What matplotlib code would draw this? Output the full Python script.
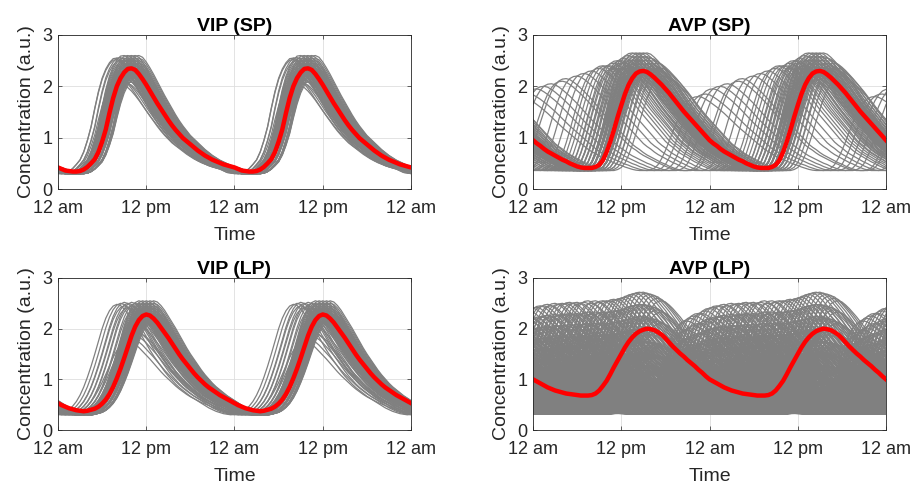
import numpy as np
import matplotlib.pyplot as plt

plt.rcParams["font.family"] = ["Liberation Sans", "DejaVu Sans"]

# Eje de tiempo: dos días, cada media hora
HORAS = np.arange(0, 48.5, 0.5)
MARCAS_X = [0, 12, 24, 36, 48]
ETIQUETAS_X = ["12 am", "12 pm", "12 am", "12 pm", "12 am"]
MARCAS_Y = [0, 1, 2, 3]

# Curvas medias (rojas), un día cada media hora desde las 12 am
VIP_SP_MEDIA = [0.42, 0.39, 0.36, 0.35, 0.34, 0.34, 0.35, 0.38,
                0.43, 0.50, 0.58, 0.72, 0.92, 1.16, 1.48, 1.77,
                2.00, 2.16, 2.27, 2.34, 2.35, 2.32, 2.24, 2.14,
                2.03, 1.91, 1.79, 1.67, 1.56, 1.45, 1.34, 1.24,
                1.15, 1.07, 0.99, 0.93, 0.87, 0.81, 0.75, 0.70,
                0.65, 0.61, 0.57, 0.54, 0.51, 0.48, 0.46, 0.44]
AVP_SP_MEDIA = [0.95, 0.89, 0.84, 0.78, 0.73, 0.69, 0.65, 0.61,
                0.57, 0.54, 0.50, 0.47, 0.44, 0.42, 0.41, 0.41,
                0.41, 0.43, 0.47, 0.56, 0.72, 0.92, 1.15, 1.40,
                1.63, 1.85, 2.03, 2.16, 2.25, 2.29, 2.30, 2.28,
                2.23, 2.17, 2.10, 2.03, 1.95, 1.87, 1.78, 1.69,
                1.60, 1.51, 1.43, 1.35, 1.27, 1.19, 1.11, 1.03]
VIP_LP_MEDIA = [0.53, 0.49, 0.46, 0.43, 0.41, 0.39, 0.38, 0.37,
                0.38, 0.40, 0.42, 0.46, 0.52, 0.60, 0.71, 0.85,
                1.02, 1.21, 1.42, 1.64, 1.86, 2.04, 2.17, 2.25,
                2.28, 2.26, 2.20, 2.12, 2.02, 1.92, 1.82, 1.71,
                1.60, 1.49, 1.39, 1.30, 1.21, 1.12, 1.04, 0.97,
                0.90, 0.84, 0.79, 0.74, 0.69, 0.65, 0.61, 0.57]
AVP_LP_MEDIA = [1.00, 0.96, 0.92, 0.88, 0.84, 0.81, 0.78, 0.76,
                0.74, 0.72, 0.71, 0.70, 0.69, 0.68, 0.68, 0.68,
                0.69, 0.72, 0.78, 0.87, 0.97, 1.10, 1.24, 1.37,
                1.50, 1.63, 1.74, 1.83, 1.90, 1.95, 1.98, 2.00,
                1.99, 1.97, 1.93, 1.88, 1.81, 1.73, 1.65, 1.58,
                1.51, 1.45, 1.38, 1.32, 1.26, 1.19, 1.13, 1.06]

# Células individuales (grises): núcleo (todas las horas x todas las alturas)
# y células sueltas (hora del pico, altura del pico)
VIP_SP_NUCLEO_HORA = [9.0, 9.5, 10.0, 10.5, 11.0]
VIP_SP_NUCLEO_ALTURA = [2.60, 2.55, 2.50, 2.45, 2.40, 2.35, 2.30, 2.25, 2.20]
VIP_SP_SUELTAS_HORA = [8.0, 8.0, 8.5, 8.5, 9.0, 9.0, 9.5, 9.5, 10.0, 8.5]
VIP_SP_SUELTAS_ALTURA = [2.55, 2.52, 2.56, 2.50, 2.10, 2.00, 2.12, 2.05, 2.08, 2.15]

AVP_SP_NUCLEO_HORA = [13.5, 14.0, 14.5, 15.0, 15.5]
AVP_SP_NUCLEO_ALTURA = [2.65, 2.58, 2.51, 2.44, 2.37, 2.30, 2.23]
AVP_SP_SUELTAS_HORA = [10.5, 11.0, 11.0, 11.5, 11.5, 12.0, 12.0, 12.0,
                       12.5, 12.5, 12.5, 13.0, 13.0, 13.0, 16.0, 16.0, 16.0,
                       16.5, 16.5, 17.0, 17.0, 17.5, 18.0,
                       23.5, 0.5, 1.5, 2.5, 4.0, 4.5, 6.0, 7.0,
                       8.0, 9.0, 9.5, 10.0, 22.5]
AVP_SP_SUELTAS_ALTURA = [2.40, 2.45, 2.35, 2.50, 2.40, 2.50, 2.45, 2.35,
                         2.55, 2.45, 2.35, 2.60, 2.50, 2.40, 2.55, 2.45, 2.35,
                         2.50, 2.40, 2.45, 2.35, 2.35, 2.20,
                         1.85, 1.95, 2.00, 2.05, 2.10, 2.15, 2.20, 2.25,
                         2.30, 2.35, 2.40, 2.40, 1.80]

VIP_LP_NUCLEO_HORA = [11.0, 11.5, 12.0, 12.5, 13.0]
VIP_LP_NUCLEO_ALTURA = [2.55, 2.50, 2.45, 2.40, 2.35, 2.30, 2.25, 2.20, 2.15]
VIP_LP_SUELTAS_HORA = [8.0, 8.5, 9.0, 9.0, 9.5, 9.5, 10.0, 10.0, 10.5, 10.5,
                       10.0, 10.5, 10.5, 11.0, 11.0, 9.5]
VIP_LP_SUELTAS_ALTURA = [2.48, 2.50, 2.52, 2.45, 2.50, 2.42, 2.52, 2.45, 2.50, 2.40,
                         1.80, 1.85, 1.95, 1.90, 2.05, 1.75]

AVP_LP_PICO_HORA = [21.0, 21.5, 22.0, 22.5, 23.0, 23.5, 0.0, 0.5, 1.0, 1.5, 2.0, 2.5,
                    3.0, 3.5, 4.0, 4.5, 5.0, 5.5, 6.0, 6.5, 7.0, 7.5, 8.0, 8.5,
                    9.0, 9.5, 10.0, 10.5, 11.0, 11.5, 12.0, 12.5, 13.0, 13.5, 14.0, 14.5,
                    15.0, 15.5, 16.0, 16.5, 17.0, 17.5]
AVP_LP_PICO_ALTURA = [2.15, 2.20, 2.25, 2.30, 2.30, 2.35, 2.40, 2.42, 2.45, 2.45, 2.48, 2.45,
                      2.50, 2.48, 2.50, 2.50, 2.52, 2.50, 2.52, 2.50, 2.52, 2.55, 2.50, 2.55,
                      2.52, 2.55, 2.55, 2.55, 2.58, 2.58, 2.60, 2.62, 2.65, 2.68, 2.70, 2.72,
                      2.72, 2.70, 2.68, 2.65, 2.60, 2.55]
AVP_LP_ESCALAS = [1.0, 0.9, 0.8, 0.7, 0.6, 0.5, 0.4, 0.3, 0.2, 0.1]

GRIS = "#808080"
OSCURO = "#262626"


# Función para repetir un día y cerrar a las 48 h
def repetir_dos_dias(dia):
    dia = np.asarray(dia, dtype=float)
    return np.concatenate([dia, dia, dia[:1]])


# Función para construir una célula a partir de la forma media
def curva_celula(forma, hora_pico, altura, base):
    forma = np.asarray(forma, dtype=float)
    pulso = (forma - forma.min()) / (forma.max() - forma.min())
    desplazamiento = int(round((hora_pico - np.argmax(forma) * 0.5) * 2))
    pulso = np.roll(pulso, desplazamiento)
    return repetir_dos_dias(base + (altura - base) * pulso)


# Función para dibujar las células grises
def dibujar_celulas(ax, forma, horas, alturas, base):
    for hora, altura in zip(horas, alturas):
        ax.plot(HORAS, curva_celula(forma, hora, altura, base), color=GRIS, lw=0.9)


# Función para dibujar núcleo + sueltas
def dibujar_grupo(ax, forma, nucleo_h, nucleo_a, sueltas_h, sueltas_a, base):
    pares = [(h, a) for h in nucleo_h for a in nucleo_a]
    dibujar_celulas(ax, forma, [p[0] for p in pares], [p[1] for p in pares], base)
    dibujar_celulas(ax, forma, sueltas_h, sueltas_a, base)


# Función para dar formato a un panel
def formato_panel(ax, titulo, media):
    ax.plot(HORAS, repetir_dos_dias(media), color="red", lw=3.2)
    ax.set_xlim(0, 48)
    ax.set_ylim(0, 3)
    ax.set_xticks(MARCAS_X)
    ax.set_xticklabels(ETIQUETAS_X)
    ax.set_yticks(MARCAS_Y)
    ax.grid(True, color="#dedede", lw=0.6)
    ax.set_axisbelow(True)
    ax.tick_params(direction="in", top=True, right=True, length=3, width=0.5,
                   labelsize=13, colors=OSCURO)
    ax.tick_params(axis="x", pad=8)
    ax.tick_params(axis="y", pad=4)
    for borde in ax.spines.values():
        borde.set_linewidth(0.6)
        borde.set_color(OSCURO)
    ax.set_xlabel("Time", fontsize=14, color=OSCURO, labelpad=7)
    ax.set_ylabel("Concentration (a.u.)", fontsize=14, color=OSCURO, labelpad=5)
    ax.set_title(titulo, fontsize=14, fontweight="bold", pad=3)


fig = plt.figure(figsize=(9.16, 4.86), dpi=100)
ax1 = fig.add_axes([0.0633, 0.6111, 0.3854, 0.3169])
ax2 = fig.add_axes([0.5819, 0.6111, 0.3854, 0.3169])
ax3 = fig.add_axes([0.0633, 0.1152, 0.3854, 0.3128])
ax4 = fig.add_axes([0.5819, 0.1152, 0.3854, 0.3128])

dibujar_grupo(ax1, VIP_SP_MEDIA, VIP_SP_NUCLEO_HORA, VIP_SP_NUCLEO_ALTURA,
              VIP_SP_SUELTAS_HORA, VIP_SP_SUELTAS_ALTURA, 0.30)
formato_panel(ax1, "VIP (SP)", VIP_SP_MEDIA)

dibujar_grupo(ax2, AVP_SP_MEDIA, AVP_SP_NUCLEO_HORA, AVP_SP_NUCLEO_ALTURA,
              AVP_SP_SUELTAS_HORA, AVP_SP_SUELTAS_ALTURA, 0.36)
formato_panel(ax2, "AVP (SP)", AVP_SP_MEDIA)

dibujar_grupo(ax3, VIP_LP_MEDIA, VIP_LP_NUCLEO_HORA, VIP_LP_NUCLEO_ALTURA,
              VIP_LP_SUELTAS_HORA, VIP_LP_SUELTAS_ALTURA, 0.30)
formato_panel(ax3, "VIP (LP)", VIP_LP_MEDIA)

# AVP (LP): misma forma de célula que AVP (SP), con varias amplitudes
for escala in AVP_LP_ESCALAS:
    alturas = [0.32 + (a - 0.32) * escala for a in AVP_LP_PICO_ALTURA]
    dibujar_celulas(ax4, AVP_SP_MEDIA, AVP_LP_PICO_HORA, alturas, 0.32)
formato_panel(ax4, "AVP (LP)", AVP_LP_MEDIA)

fig.savefig("out.png", dpi=100)
